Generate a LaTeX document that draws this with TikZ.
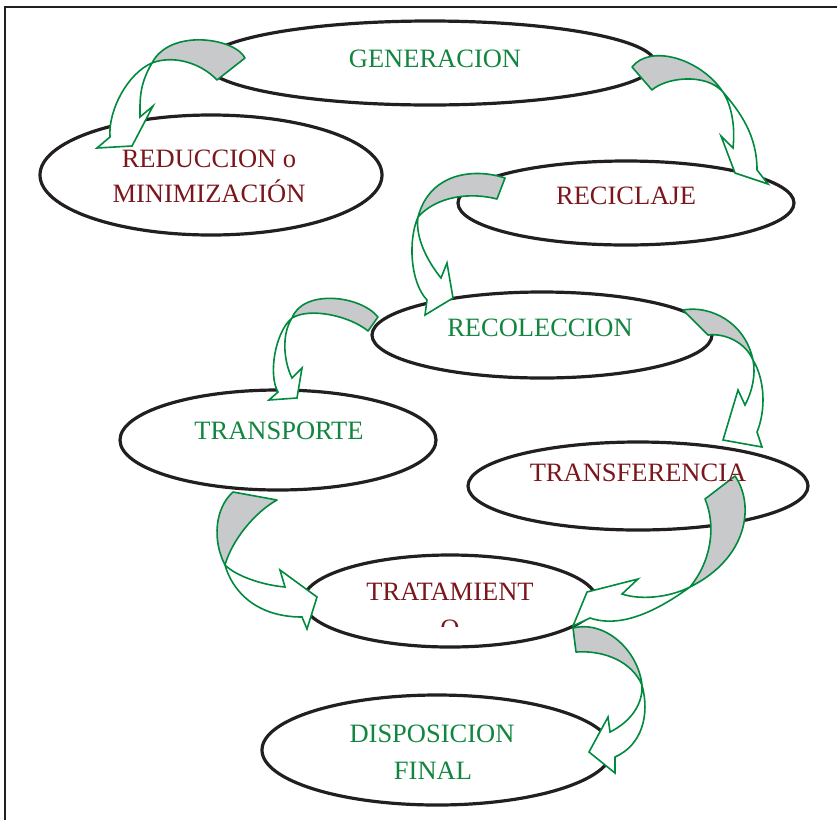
\documentclass[tikz,border=0pt]{standalone}
\usepackage{fontspec}
\setmainfont{Liberation Serif}
\usetikzlibrary{shapes.geometric}

\definecolor{leafgreen}{RGB}{18,134,64}
\definecolor{wine}{RGB}{122,22,28}
\definecolor{edgegreen}{RGB}{0,138,62}
\definecolor{shade}{RGB}{200,201,203}
\definecolor{ink}{RGB}{35,31,32}

\begin{document}
\begin{tikzpicture}[x=1pt, y=-1pt,
  oval/.style={draw=ink, line width=3.2pt, ellipse, inner sep=0pt, fill=white},
  lbl/.style={anchor=base, inner sep=0pt, font=\fontsize{26.5}{30}\selectfont},
  back/.style={draw=edgegreen, line width=1.6pt, fill=shade, line join=round},
  front/.style={draw=edgegreen, line width=1.6pt, fill=white, line join=miter}]

\useasboundingbox (0,0) rectangle (837,820);
\draw[ink, line width=1.8pt] (837,7) -- (5,7) -- (5,820);

% ovals
\node[oval, minimum width=450pt, minimum height=84pt] (gen) at (430,63) {};
\node[oval, minimum width=342pt, minimum height=120pt] (red) at (211,175) {};
\node[oval, minimum width=336pt, minimum height=84pt] (rec) at (626,203) {};
\node[oval, minimum width=340pt, minimum height=86pt] (col) at (542,335) {};
\node[oval, minimum width=316pt, minimum height=100pt] (tra) at (278,440) {};
\node[oval, minimum width=340pt, minimum height=88pt] (tfr) at (638,486) {};
\node[oval, minimum width=294pt, minimum height=92pt] (trt) at (450,601) {};
\node[oval, minimum width=350pt, minimum height=110pt] (dis) at (437,750) {};

% generacion -> reduccion
\coordinate (ja) at (152,63);
\filldraw[back] (217,80) .. controls (200,62) and (172,55) .. (ja)
  .. controls (170,28) and (235,38) .. (245,58) -- cycle;
\filldraw[front] (ja) .. controls (128,73) and (108,110) .. (110,137) -- (97,148)
  -- (132,146) -- (153,106) -- (140,117) .. controls (140,100) and (139,85) .. (ja);

% generacion -> reciclaje
\coordinate (jb) at (723,92);
\filldraw[back] (632,67) .. controls (650,44) and (700,58) .. (jb)
  .. controls (705,72) and (665,78) .. (652,90) -- cycle;
\filldraw[front] (jb) .. controls (740,112) and (757,135) .. (757,170) -- (768,184)
  -- (735,173) -- (721,136) -- (733,148) .. controls (735,130) and (733,108) .. (jb);

% reciclaje -> recoleccion
\coordinate (jc) at (418,217);
\filldraw[back] (505,178) .. controls (475,168) and (430,172) .. (jc)
  .. controls (437,196) and (470,192) .. (497,199) -- cycle;
\filldraw[front] (jc) .. controls (408,240) and (410,282) .. (427,300) -- (425,315)
  -- (453,298) -- (447,263) -- (441,278) .. controls (428,262) and (415,238) .. (jc);

% recoleccion -> transporte
\coordinate (jd) at (292,318);
\filldraw[back] (378,317) .. controls (360,295) and (303,289) .. (jd)
  .. controls (310,307) and (350,316) .. (368,331) -- cycle;
\filldraw[front] (jd) .. controls (275,332) and (268,375) .. (278,392) -- (269,400)
  -- (297,398) -- (302,368) -- (292,378) .. controls (284,362) and (281,335) .. (jd);

% recoleccion -> transferencia
\coordinate (je) at (753,360);
\filldraw[back] (683,310) .. controls (710,305) and (745,322) .. (je)
  .. controls (745,342) and (725,333) .. (708,335) -- cycle;
\filldraw[front] (je) .. controls (765,380) and (766,410) .. (757,432) -- (762,447)
  -- (723,440) -- (738,390) -- (745,405) .. controls (752,392) and (756,375) .. (je);

% transporte -> tratamiento
\coordinate (jf) at (225,565);
\filldraw[back] (233,492) .. controls (215,508) and (212,540) .. (jf)
  .. controls (232,540) and (255,512) .. (277,500) -- cycle;
\filldraw[front] (jf) .. controls (232,590) and (255,617) .. (302,617) -- (307,629)
  -- (317,597) -- (280,570) -- (285,587) .. controls (262,585) and (236,576) .. (jf);

% transferencia -> tratamiento
\coordinate (jg) at (690,587);
\filldraw[back] (735,476) .. controls (755,505) and (748,558) .. (jg)
  .. controls (712,560) and (716,525) .. (705,499) -- cycle;
\filldraw[front] (jg) .. controls (665,605) and (625,630) .. (590,618) -- (573,626)
  -- (587,592) -- (638,579) -- (622,594) .. controls (640,600) and (668,598) .. (jg);

% tratamiento -> disposicion
\coordinate (jh) at (642,685);
\filldraw[back] (573,628) .. controls (605,620) and (638,650) .. (jh)
  .. controls (632,662) and (605,650) .. (576,652) -- cycle;
\filldraw[front] (jh) .. controls (650,715) and (642,745) .. (615,757) -- (615,773)
  -- (589,752) -- (608,717) -- (610,732) .. controls (630,722) and (643,705) .. (jh);

% labels
\node[lbl, text=leafgreen] (gentxt) at (435,67) {GENERACION};
\node[lbl, text=wine] (redtxt) at (209,167) {REDUCCION o};
\node[lbl, text=wine] (redtxtb) at (209,202) {MINIMIZACIÓN};
\node[lbl, text=wine] (rectxt) at (626,204) {RECICLAJE};
\node[lbl, text=leafgreen] (coltxt) at (540,336) {RECOLECCION};
\node[lbl, text=leafgreen] (tratxt) at (279,439) {TRANSPORTE};
\node[lbl, text=wine] (tfrtxt) at (638,481) {TRANSFERENCIA};
\node[lbl, text=wine] (trttxt) at (450,600) {TRATAMIENT};
\begin{scope}
\clip (300,560) rectangle (600,626);
\node[lbl, text=wine] (trttxtb) at (450,637) {O};
\end{scope}
\node[lbl, text=leafgreen] (distxt) at (432,742) {DISPOSICION};
\node[lbl, text=leafgreen] (distxtb) at (433,779) {FINAL};

\end{tikzpicture}
\end{document}
